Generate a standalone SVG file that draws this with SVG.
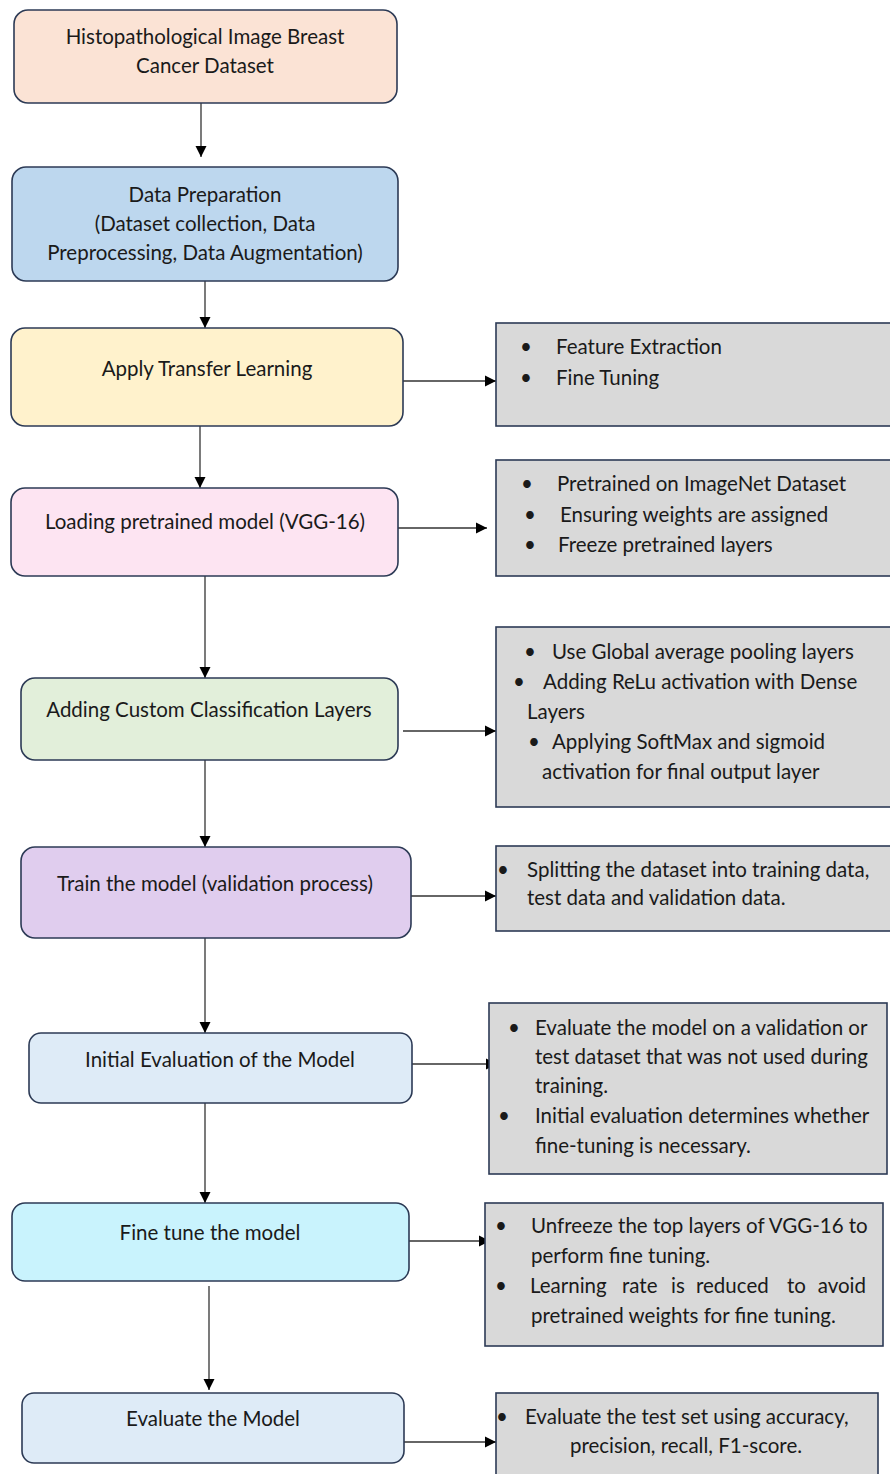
<svg xmlns="http://www.w3.org/2000/svg" width="890" height="1474" viewBox="0 0 890 1474">
<style>
text{font-family:Lato,"Open Sans","Liberation Sans",sans-serif;font-size:20.5px;fill:#1a1a1a}
.c{text-anchor:middle}
.n{stroke:#2c3a55;stroke-width:1.6}
.r{fill:#d9d9d9;stroke:#2c3a55;stroke-width:1.6}
.e{stroke:#333;stroke-width:1.3;fill:none}
</style>
<defs>
<marker id="a" markerWidth="12" markerHeight="12" refX="11" refY="6" orient="auto" markerUnits="userSpaceOnUse">
<path d="M0,0.5 L11,6 L0,11.5 Z" fill="#000"/>
</marker>
</defs>
<g id="connectors">
<line class="e" x1="201" y1="103" x2="201" y2="157" marker-end="url(#a)"/>
<line class="e" x1="205" y1="281" x2="205" y2="328" marker-end="url(#a)"/>
<line class="e" x1="200" y1="426" x2="200" y2="488" marker-end="url(#a)"/>
<line class="e" x1="205" y1="576" x2="205" y2="678" marker-end="url(#a)"/>
<line class="e" x1="205" y1="760" x2="205" y2="847" marker-end="url(#a)"/>
<line class="e" x1="205" y1="938" x2="205" y2="1033" marker-end="url(#a)"/>
<line class="e" x1="205" y1="1100" x2="205" y2="1203" marker-end="url(#a)"/>
<line class="e" x1="209" y1="1286" x2="209" y2="1390" marker-end="url(#a)"/>
<line class="e" x1="403" y1="381" x2="496" y2="381" marker-end="url(#a)"/>
<line class="e" x1="398" y1="528" x2="487" y2="528" marker-end="url(#a)"/>
<line class="e" x1="403" y1="731" x2="496" y2="731" marker-end="url(#a)"/>
<line class="e" x1="411" y1="896" x2="496" y2="896" marker-end="url(#a)"/>
<line class="e" x1="412" y1="1064" x2="497" y2="1064" marker-end="url(#a)"/>
<line class="e" x1="409" y1="1241" x2="490" y2="1241" marker-end="url(#a)"/>
<line class="e" x1="404" y1="1442" x2="496" y2="1442" marker-end="url(#a)"/>
</g>
<g id="n1">
<rect class="n" x="14" y="10" width="383" height="93" rx="14" fill="#fbe3d5"/>
<text class="c" x="205" y="44">Histopathological Image Breast</text>
<text class="c" x="205" y="73">Cancer Dataset</text>
</g>
<g id="n2">
<rect class="n" x="12" y="167" width="386" height="114" rx="14" fill="#bdd7ee"/>
<text class="c" x="205" y="202">Data Preparation</text>
<text class="c" x="205" y="231">(Dataset collection, Data</text>
<text class="c" x="205" y="260">Preprocessing, Data Augmentation)</text>
</g>
<g id="n3">
<rect class="n" x="11" y="328" width="392" height="98" rx="14" fill="#fff2cc"/>
<text class="c" x="207" y="376">Apply Transfer Learning</text>
</g>
<g id="n4">
<rect class="n" x="11" y="488" width="387" height="88" rx="14" fill="#fde4f2"/>
<text class="c" x="205" y="529">Loading pretrained model (VGG-16)</text>
</g>
<g id="n5">
<rect class="n" x="21" y="678" width="377" height="82" rx="14" fill="#e2efda"/>
<text class="c" x="209" y="717">Adding Custom Classification Layers</text>
</g>
<g id="n6">
<rect class="n" x="21" y="847" width="390" height="91" rx="14" fill="#e0cdee"/>
<text class="c" x="215" y="891">Train the model (validation process)</text>
</g>
<g id="n7">
<rect class="n" x="29" y="1033" width="383" height="70" rx="12" fill="#deebf7"/>
<text class="c" x="220" y="1067">Initial Evaluation of the Model</text>
</g>
<g id="n8">
<rect class="n" x="12" y="1203" width="397" height="78" rx="13" fill="#c9f3fd"/>
<text class="c" x="210" y="1240">Fine tune the model</text>
</g>
<g id="n9">
<rect class="n" x="22" y="1393" width="382" height="70" rx="12" fill="#deebf7"/>
<text class="c" x="213" y="1426">Evaluate the Model</text>
</g>
<g id="r1">
<rect class="r" x="496" y="323" width="398" height="103"/>
<text x="520" y="354">•</text><text x="556" y="354">Feature Extraction</text>
<text x="520" y="385">•</text><text x="556" y="385">Fine Tuning</text>
</g>
<g id="r2">
<rect class="r" x="496" y="460" width="398" height="116"/>
<text x="521" y="491">•</text><text x="557" y="491">Pretrained on ImageNet Dataset</text>
<text x="524" y="522">•</text><text x="560" y="522">Ensuring weights are assigned</text>
<text x="524" y="552">•</text><text x="558" y="552">Freeze pretrained layers</text>
</g>
<g id="r3">
<rect class="r" x="496" y="627" width="398" height="180"/>
<text x="524" y="659">•</text><text x="552" y="659">Use Global average pooling layers</text>
<text x="513" y="689">•</text><text x="543" y="689">Adding ReLu activation with Dense</text>
<text x="527" y="719">Layers</text>
<text x="528" y="749">•</text><text x="552" y="749">Applying SoftMax and sigmoid</text>
<text x="542" y="779">activation for final output layer</text>
</g>
<g id="r4">
<rect class="r" x="496" y="846" width="398" height="85"/>
<text x="497" y="877">•</text><text x="527" y="877">Splitting the dataset into training data,</text>
<text x="527" y="905">test data and validation data.</text>
</g>
<g id="r5">
<rect class="r" x="489" y="1003" width="398" height="171"/>
<text x="508" y="1035">•</text><text x="535" y="1035">Evaluate the model on a validation or</text>
<text x="535" y="1064">test dataset that was not used during</text>
<text x="535" y="1093">training.</text>
<text x="498" y="1123">•</text><text x="535" y="1123">Initial evaluation determines whether</text>
<text x="535" y="1153">fine-tuning is necessary.</text>
</g>
<g id="r6">
<rect class="r" x="485" y="1203" width="398" height="143"/>
<text x="495" y="1233">•</text><text x="531" y="1233">Unfreeze the top layers of VGG-16 to</text>
<text x="531" y="1263">perform fine tuning.</text>
<text x="495" y="1293">•</text><text x="530" y="1293">Learning</text><text x="622" y="1293">rate</text><text x="671" y="1293">is</text><text x="696" y="1293">reduced</text><text x="787" y="1293">to</text><text x="866" y="1293" text-anchor="end">avoid</text>
<text x="531" y="1323">pretrained weights for fine tuning.</text>
</g>
<g id="r7">
<rect class="r" x="496" y="1393" width="382" height="84"/>
<text x="496" y="1424">•</text><text x="525" y="1424">Evaluate the test set using accuracy,</text>
<text class="c" x="686" y="1453">precision, recall, F1-score.</text>
</g>
</svg>
